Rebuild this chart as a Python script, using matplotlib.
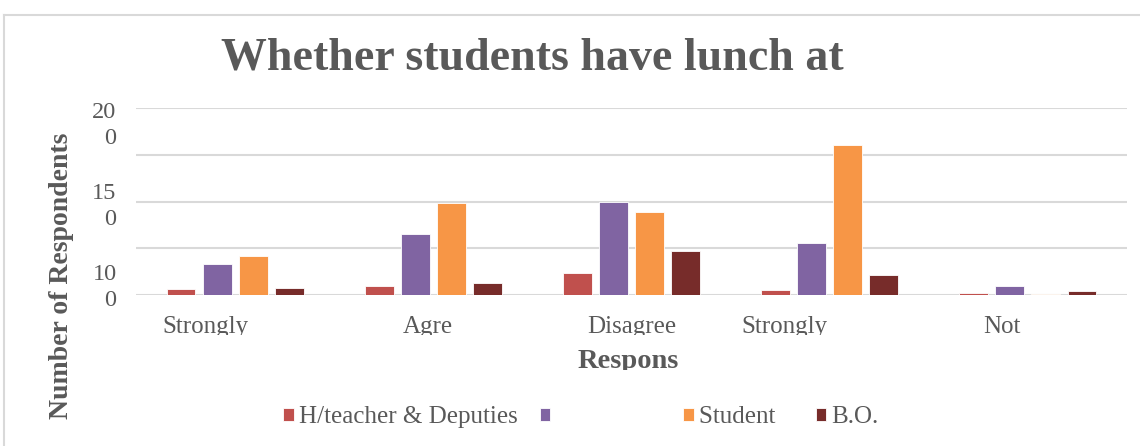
import numpy as np
import matplotlib.pyplot as plt
from matplotlib.lines import Line2D
from matplotlib.transforms import Bbox, TransformedBbox

W, H = 1140, 446

plt.rcParams.update({
    "font.family": "Liberation Serif",
    "text.color": "#595959",
    "axes.labelcolor": "#595959",
    "xtick.color": "#595959",
    "ytick.color": "#595959",
})

# ── data ─────────────────────────────────────────────────────────────────────
categories = ["Strongly", "Agre", "Disagree", "Strongly", "Not"]
series_names = ["H/teacher & Deputies", " " * 17, "Student   ", "B.O."]
head_teachers = [6, 10, 24, 5, 2]
teachers = [33, 65, 100, 56, 10]
students = [42, 98, 89, 160, 1]
bursars = [8, 13, 47, 21, 4]
series = [head_teachers, teachers, students, bursars]
colors = ["#C0504D", "#8064A2", "#F79646", "#772C2A"]

# garbled (wrapped) value-axis labels as they appear in the source
ytick_text = ["20\n0", "15\n0", "10\n0"]
ytick_pos = [187, 100, 13.5]
xlabel_shift = [-0.15, -0.03, 0.0, -0.23, -0.13]

fig = plt.figure(figsize=(W / 100, H / 100), dpi=100)
ax = fig.add_axes([136 / W, 1 - 295 / H, 991 / W, 187 / H])

x = np.arange(len(categories))
step, width = 0.182, 0.146
bars = []
for i, (vals, col, name) in enumerate(zip(series, colors, series_names)):
    b = ax.bar(x + (i - 1.5) * step, vals, width=width, color=col,
               edgecolor="white", linewidth=0.6, label=name, zorder=3)
    bars.append(b)

ax.set_xlim(-0.5, len(categories) - 0.5)
ax.set_ylim(0, 200)
ax.yaxis.remove_overlapping_locs = False
ax.set_yticks([0, 50, 100, 150, 200])
ax.set_yticklabels([])
ax.yaxis.grid(True, color="#d9d9d9", lw=1.5)
ax.set_axisbelow(True)
for s in ax.spines.values():
    s.set_visible(False)
ax.tick_params(axis="y", which="major", length=0)
ax.set_yticks(ytick_pos, minor=True)
ax.set_yticklabels(ytick_text, minor=True, fontsize=17.5, linespacing=1.32)
ax.tick_params(axis="y", which="minor", length=0, pad=14)

ax.set_xticks(x + np.array(xlabel_shift))
ax.set_xticklabels(categories, fontsize=18)
ax.tick_params(axis="x", length=0, pad=15)

# text cut off at the bottom like in the source
clip = TransformedBbox(Bbox([[0, 1 - 335 / H], [1, 1]]), fig.transFigure)
for lbl in ax.get_xticklabels():
    lbl.set_clip_box(clip)
    lbl.set_clip_on(True)

t = fig.text(628 / W, 1 - 362 / H, "Respons", ha="center", va="center",
             fontsize=20.5, fontweight="bold", color="#595959")
t.set_clip_box(TransformedBbox(Bbox([[0, 1 - 370 / H], [1, 1]]), fig.transFigure))
t.set_clip_on(True)

fig.text(62 / W, 1 - 276 / H, "Number of Respondents", rotation=90,
         ha="center", va="center", fontsize=20, fontweight="bold",
         color="#595959")

fig.text(532 / W, 1 - 59 / H, "Whether students have lunch at", ha="center",
         va="center", fontsize=33, fontweight="bold", color="#595959")

fig.legend(handles=bars, labels=series_names, loc="center",
           bbox_to_anchor=(581 / W, 1 - 417 / H), ncol=4, frameon=False,
           fontsize=18, handlelength=0.42, handleheight=0.42,
           handletextpad=0.2, columnspacing=0.88)

# chart-area frame
fig.add_artist(Line2D([4 / W, 1], [1 - 15 / H, 1 - 15 / H], color="#d9d9d9", lw=1.5))
fig.add_artist(Line2D([4 / W, 4 / W], [0, 1 - 15 / H], color="#d9d9d9", lw=1.5))

fig.savefig("out.png", dpi=100)
